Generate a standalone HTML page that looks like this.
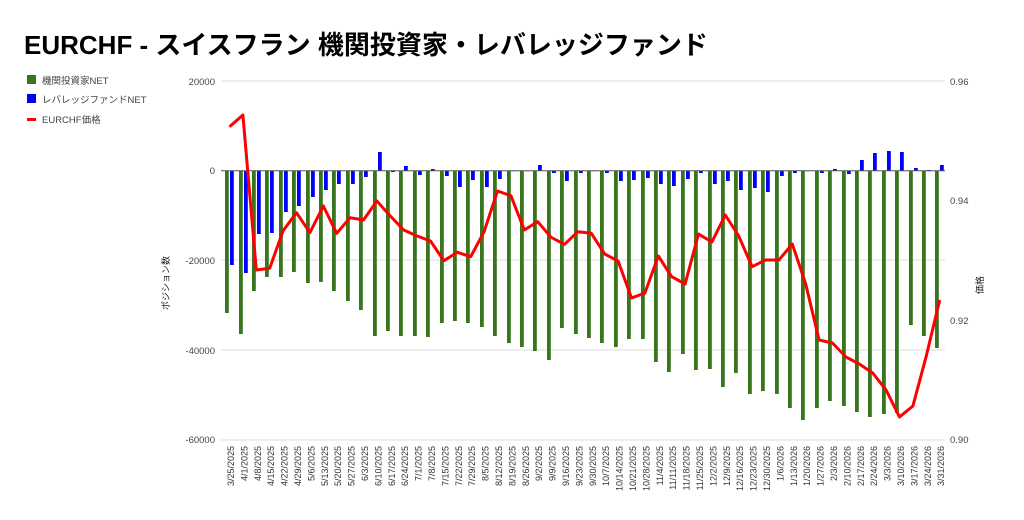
<!DOCTYPE html>
<html><head><meta charset="utf-8"><style>
body{margin:0;background:#fff;}
svg{display:block;font-family:"Liberation Sans","Noto Sans CJK JP",sans-serif;}
</style></head><body>
<svg id="s" width="1024" height="520" xmlns="http://www.w3.org/2000/svg">
<text x="24" y="54" font-size="26" font-weight="bold" fill="#000">EURCHF - スイスフラン 機関投資家・レバレッジファンド</text>
<rect x="27" y="75" width="9" height="9" fill="#38761d"/>
<text x="42" y="84" font-size="9.5" fill="#444">機関投資家NET</text>
<rect x="27" y="94" width="9" height="9" fill="#0000ff"/>
<text x="42" y="103" font-size="9.5" fill="#444">レバレッジファンドNET</text>
<rect x="27" y="118" width="9" height="3" fill="#ff0000"/>
<text x="42" y="123" font-size="9.5" fill="#444">EURCHF価格</text>
<g stroke="#ddd" stroke-width="1">
<line x1="221" y1="81" x2="945" y2="81"/>
<line x1="221" y1="260" x2="945" y2="260"/>
<line x1="221" y1="350" x2="945" y2="350"/>
<line x1="221" y1="440" x2="945" y2="440"/>
</g>
<g font-size="9.5" fill="#444" text-anchor="end">
<text x="215" y="85">20000</text>
<text x="215" y="174">0</text>
<text x="215" y="264">-20000</text>
<text x="215" y="354">-40000</text>
<text x="215" y="443">-60000</text>
</g>
<g font-size="9.5" fill="#444">
<text x="950" y="85">0.96</text>
<text x="950" y="204">0.94</text>
<text x="950" y="324">0.92</text>
<text x="950" y="443">0.90</text>
</g>
<text transform="translate(169,283) rotate(-90)" font-size="9" fill="#222" text-anchor="middle">ポジション数</text>
<text transform="translate(983,285) rotate(-90)" font-size="9" fill="#222" text-anchor="middle">価格</text>
<g id="bars"></g>
<line x1="221" y1="170.7" x2="945" y2="170.7" stroke="#555" stroke-width="1"/>
<polyline id="red" fill="none" stroke="#ff0000" stroke-width="3" stroke-linejoin="round"/>
<g id="lbl" font-size="9" fill="#333" text-anchor="end"></g>
</svg>
<script>
var g=[313,334,291,277,277,272,283,282,291,301,310,336,331,336,336,337,323,321,323,327,336,343,347,351,360,328,334,338,343,347,339,339,362,372,354,370,369,387,373,394,391,394,408,420,408,401,406,412,417,414,413,325,336,348];
var b=[265,273,234,233,212,206,197,190,184,184,177,152,172,166,175,169,176,187,180,187,179,171,171,165,173,181,173,171,173,181,180,178,184,186,179,173,184,181,190,188,192,176,173,171,173,169,174,160,153,151,152,168,170,165];
var r=[126.7,115,270,268.3,230.7,212.7,232.7,206,233.3,217.7,220,201,216,230,236,241,260.7,252.3,256.7,231.7,191,195.7,230,221.7,237.3,244.3,231.7,233.3,254,261,298,293,256,276.7,284,234,242,215,236,266.7,260,260,244,284,340,343,357,364,373,390,417,406,356,300];
var z=170.7,ns="http://www.w3.org/2000/svg",B=document.getElementById("bars"),L=document.getElementById("lbl"),pts=[];
function rect(x,y1,y2,c){var e=document.createElementNS(ns,"rect");e.setAttribute("x",Math.round(x-1.9));e.setAttribute("y",Math.min(y1,y2));e.setAttribute("width",3.8);e.setAttribute("height",Math.max(0.5,Math.abs(y2-y1)));e.setAttribute("fill",c);B.appendChild(e);}
var d=new Date(2025,2,25);
for(var i=0;i<54;i++){var x=227+13.4*i;rect(x,z,g[i],"#38761d");rect(x+5,z,b[i],"#0000ff");pts.push((x+2.5).toFixed(1)+","+r[i]);
var t=document.createElementNS(ns,"text");var lx=x+7;t.setAttribute("transform","translate("+lx.toFixed(1)+",446) rotate(-90)");t.textContent=(d.getMonth()+1)+"/"+d.getDate()+"/"+d.getFullYear();L.appendChild(t);d.setDate(d.getDate()+7);}
document.getElementById("red").setAttribute("points",pts.join(" "));
</script>
</body></html>
